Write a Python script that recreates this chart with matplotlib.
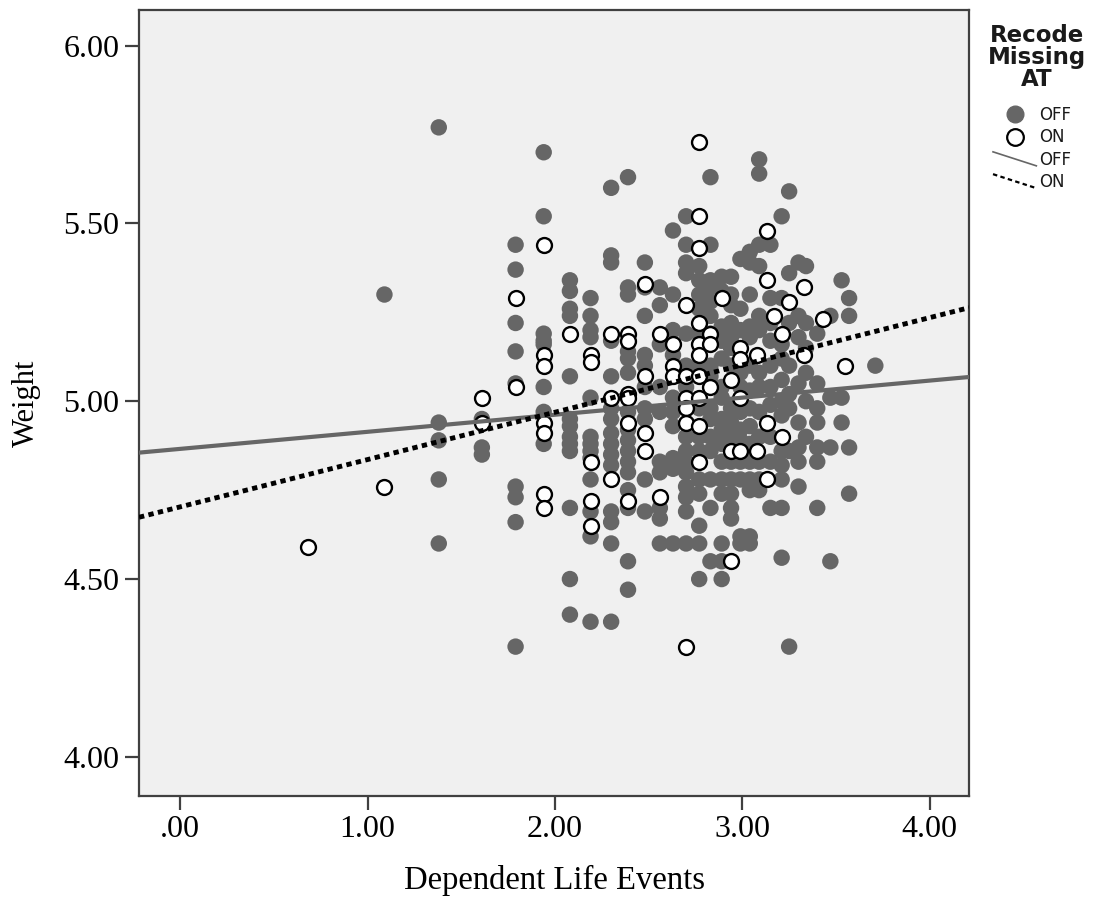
import numpy as np
import matplotlib
matplotlib.use("Agg")
import matplotlib.pyplot as plt
from matplotlib.lines import Line2D
from matplotlib.legend_handler import HandlerBase

# -----------------------------
# Datos
# -----------------------------
# puntos "OFF" (relleno gris), agrupados por columna de x
off_cols = {
    1.09: [5.30],
    1.38: [5.77, 4.94, 4.89, 4.78, 4.60],
    1.61: [4.95, 4.87, 4.85],
    1.79: [5.44, 5.37, 5.22, 5.14, 5.05, 4.76, 4.73, 4.66, 4.31],
    1.94: [5.70, 5.52, 5.19, 5.17, 5.16, 5.04, 4.97, 4.88],
    2.08: [5.34, 5.31, 5.26, 5.24, 5.07, 4.95, 4.93, 4.90, 4.88, 4.86, 4.70, 4.50, 4.40],
    2.19: [5.29, 5.24, 5.20, 5.18, 5.01, 4.90, 4.88, 4.86, 4.84, 4.78, 4.69, 4.62, 4.38],
    2.30: [5.60, 5.41, 5.39, 5.17, 5.07, 4.98, 4.95, 4.91, 4.88, 4.85, 4.82, 4.69, 4.66, 4.60, 4.38],
    2.39: [5.63, 5.32, 5.30, 5.14, 5.12, 5.08, 4.97, 4.92, 4.89, 4.86, 4.83, 4.80, 4.75, 4.70, 4.55, 4.47],
    2.48: [5.39, 5.32, 5.24, 5.13, 5.10, 5.04, 4.98, 4.95, 4.78, 4.69],
    2.56: [5.32, 5.27, 5.16, 5.04, 4.97, 4.83, 4.80, 4.70, 4.67, 4.60],
    2.63: [5.48, 5.30, 5.20, 5.13, 5.01, 4.97, 4.93, 4.84, 4.81, 4.60],
    2.70: [5.52, 5.44, 5.39, 5.36, 5.19, 5.10, 5.04, 4.90, 4.86, 4.83, 4.80, 4.76, 4.73, 4.69, 4.60],
    2.77: [5.38, 5.34, 5.30, 5.26, 5.19, 5.10, 4.98, 4.90, 4.86, 4.78, 4.74, 4.65, 4.60, 4.50],
    2.83: [5.63, 5.44, 5.34, 5.32, 5.28, 5.24, 5.19, 5.10, 5.07, 4.98, 4.95, 4.90, 4.86, 4.78, 4.70, 4.55],
    2.89: [5.35, 5.31, 5.21, 5.17, 5.12, 5.04, 5.01, 4.95, 4.92, 4.88, 4.83, 4.78, 4.74, 4.60, 4.55, 4.50],
    2.94: [5.35, 5.30, 5.27, 5.22, 5.18, 5.15, 5.10, 4.98, 4.94, 4.90, 4.83, 4.78, 4.74, 4.70, 4.67],
    2.99: [5.40, 5.26, 5.20, 5.08, 5.04, 4.97, 4.92, 4.89, 4.83, 4.78, 4.62, 4.60],
    3.04: [5.42, 5.39, 5.30, 5.21, 5.18, 5.10, 5.03, 4.98, 4.93, 4.88, 4.83, 4.78, 4.75, 4.62, 4.60],
    3.09: [5.68, 5.64, 5.44, 5.38, 5.24, 5.20, 5.08, 5.04, 4.97, 4.90, 4.83, 4.78, 4.75],
    3.15: [5.44, 5.29, 5.22, 5.17, 5.10, 5.04, 4.99, 4.90, 4.83, 4.70],
    3.21: [5.52, 5.29, 5.16, 5.12, 5.06, 5.00, 4.96, 4.86, 4.82, 4.78, 4.70, 4.56],
    3.25: [5.59, 5.36, 5.22, 5.10, 5.02, 4.98, 4.86, 4.31],
    3.30: [5.39, 5.24, 5.18, 5.05, 4.94, 4.87, 4.83, 4.76],
    3.34: [5.38, 5.22, 5.15, 5.08, 5.00, 4.90],
    3.40: [5.19, 5.05, 4.98, 4.94, 4.87, 4.83, 4.70],
    3.47: [5.24, 5.01, 4.87, 4.55],
    3.53: [5.34, 5.01, 4.94],
    3.57: [5.29, 5.24, 4.87, 4.74],
    3.71: [5.10],
}

# puntos "ON" (circulo blanco)
on_x = [0.68, 1.09,
        1.61, 1.61, 1.79, 1.79,
        1.94, 1.94, 1.94, 1.94, 1.94, 1.94, 1.94,
        2.08,
        2.19, 2.19, 2.19, 2.19, 2.19,
        2.30, 2.30, 2.30,
        2.39, 2.39, 2.39, 2.39, 2.39, 2.39,
        2.48, 2.48, 2.48, 2.48,
        2.56, 2.56,
        2.63, 2.63, 2.63,
        2.70, 2.70, 2.70, 2.70, 2.70, 2.70,
        2.77, 2.77, 2.77, 2.77, 2.77, 2.77, 2.77, 2.77, 2.77, 2.77,
        2.83, 2.83, 2.83,
        2.89,
        2.94, 2.94, 2.94,
        2.99, 2.99, 2.99, 2.99,
        3.08, 3.08,
        3.13, 3.13, 3.13, 3.13,
        3.17,
        3.21, 3.21,
        3.25,
        3.33, 3.33,
        3.43,
        3.55]
on_y = [4.59, 4.76,
        5.01, 4.94, 5.29, 5.04,
        5.44, 5.13, 5.10, 4.94, 4.91, 4.74, 4.70,
        5.19,
        5.13, 5.11, 4.83, 4.72, 4.65,
        5.19, 5.01, 4.78,
        5.19, 5.17, 5.02, 5.01, 4.94, 4.72,
        5.33, 5.07, 4.91, 4.86,
        5.19, 4.73,
        5.16, 5.10, 5.07,
        5.27, 5.07, 5.01, 4.98, 4.94, 4.31,
        5.73, 5.52, 5.43, 5.22, 5.16, 5.13, 5.07, 5.01, 4.93, 4.83,
        5.19, 5.16, 5.04,
        5.29,
        5.06, 4.86, 4.55,
        5.15, 5.12, 5.01, 4.86,
        5.13, 4.86,
        5.48, 5.34, 4.94, 4.78,
        5.24,
        5.19, 4.90,
        5.28,
        5.32, 5.13,
        5.23,
        5.10]

# rectas de ajuste (intercepto, pendiente)
off_fit = (4.866, 0.048)
on_fit = (4.703, 0.133)

x_ticks = [0, 1, 2, 3, 4]
x_tick_labels = [".00", "1.00", "2.00", "3.00", "4.00"]
y_ticks = [4.0, 4.5, 5.0, 5.5, 6.0]
y_tick_labels = ["4.00", "4.50", "5.00", "5.50", "6.00"]

off_x = [x for x, ys in off_cols.items() for _ in ys]
off_y = [y for ys in off_cols.values() for y in ys]


# lineas diagonales en la leyenda (como en SPSS)
class HandlerDiag(HandlerBase):
    def create_artists(self, legend, orig, xdescent, ydescent, width,
                       height, fontsize, trans):
        ln = Line2D([-xdescent, -xdescent + width],
                    [-ydescent + height * 1.1, -ydescent - height * 0.1])
        self.update_prop(ln, orig, legend)
        ln.set_transform(trans)
        return [ln]


# -----------------------------
# Grafica
# -----------------------------
W, H = 1094, 899
fig = plt.figure(figsize=(W/100, H/100), dpi=100)
ax = fig.add_axes([139/W, 103/H, 830/W, 786/H])
ax.set_facecolor("#f0f0f0")

xlim = (-0.22, 4.21)
ax.set_xlim(xlim)
ax.set_ylim(3.89, 6.10)

gris = "#666666"
ax.scatter(off_x, off_y, s=140, color=gris, edgecolors="none", zorder=3)
ax.scatter(on_x, on_y, s=115, facecolors="white", edgecolors="black",
           linewidths=1.7, zorder=4)

xs = np.array(xlim)
ax.plot(xs, off_fit[0] + off_fit[1]*xs, color=gris, lw=3, zorder=5)
ax.plot(xs, on_fit[0] + on_fit[1]*xs, color="black", lw=3.5,
        linestyle=(0, (1.1, 0.9)), zorder=6)

ax.set_xticks(x_ticks)
ax.set_xticklabels(x_tick_labels)
ax.set_yticks(y_ticks)
ax.set_yticklabels(y_tick_labels)
ax.tick_params(direction="out", length=10, width=1.6, color="#404040",
               labelsize=23, pad=4)
for lbl in ax.get_xticklabels() + ax.get_yticklabels():
    lbl.set_family("Liberation Serif")
for sp in ax.spines.values():
    sp.set_color("#404040")
    sp.set_linewidth(1.6)

ax.set_xlabel("Dependent Life Events", family="Liberation Serif",
              fontsize=23.5, labelpad=15)
ax.set_ylabel("Weight", family="Liberation Serif", fontsize=22, labelpad=16)

# -----------------------------
# Leyenda
# -----------------------------
fig.text(1037/W, 1 - 24/H, "Recode\nMissing\nAT", ha="center", va="top",
         family="DejaVu Sans", weight="bold", fontsize=16.5,
         linespacing=0.95, color="#1a1a1a")

handles = [
    Line2D([], [], marker="o", ls="none", markersize=12, color=gris,
           markeredgecolor=gris),
    Line2D([], [], marker="o", ls="none", markersize=12,
           markerfacecolor="white", markeredgecolor="black", markeredgewidth=1.6),
    Line2D([], [], color=gris, lw=1.2),
    Line2D([], [], color="black", lw=1.6, linestyle=(0, (2, 1.5))),
]
leg = fig.legend(handles, ["OFF", "ON", "OFF", "ON"],
                 loc="upper left", bbox_to_anchor=(993/W, 1 - 106/H),
                 bbox_transform=fig.transFigure, frameon=False,
                 prop={"family": "DejaVu Sans", "size": 12},
                 handlelength=2.6, handletextpad=0.15, labelspacing=0.26,
                 borderpad=0, borderaxespad=0,
                 handler_map={handles[2]: HandlerDiag(),
                              handles[3]: HandlerDiag()})
for t in leg.get_texts():
    t.set_color("#1a1a1a")

plt.savefig("out.png", dpi=100)
plt.close()
